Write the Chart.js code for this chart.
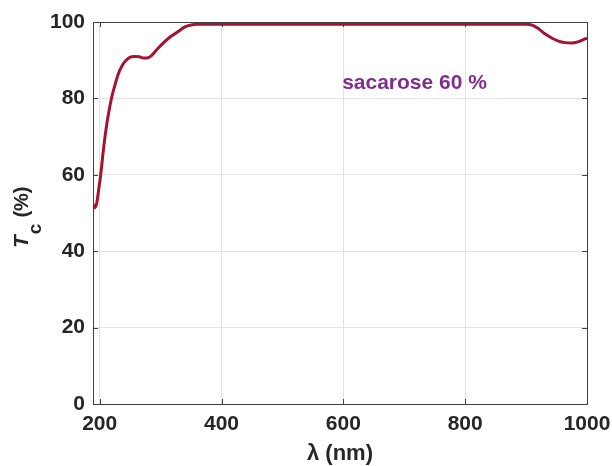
<!DOCTYPE html>
<html><head><meta charset="utf-8">
<script src="https://cdn.jsdelivr.net/npm/chart.js@4"></script>
<style>html,body{margin:0;padding:0;background:#fff}#w{width:612px;height:466px}</style>
</head><body><div id="w"><canvas id="c" width="612" height="466"></canvas></div>
<script>
const wavelengths = [189,192,195,198,202,206,210,215,220,225,231,237,243,250,257,265,272,278,285,295,305,315,327,340,350,360,380,450,600,800,900,910,920,931,942,953,964,975,985,993,1000];
const transmittance = [52.3,51.4,52.5,55.8,60.5,66.4,71.5,76.5,80.5,83.5,86.6,88.6,89.9,90.8,91.0,90.9,90.6,90.6,91.2,93.0,94.6,96.0,97.3,98.7,99.2,99.4,99.4,99.4,99.4,99.4,99.4,99.2,98.3,96.9,95.8,95.0,94.6,94.5,94.8,95.3,95.8];
const xTicks = [200,400,600,800,1000];
const yTicks = [0,20,40,60,80,100];
const annotationText = 'sacarose 60 %';
const annotationPos = [598, 84];

const FONT = '"Liberation Sans", Arial, sans-serif';
const TXT = '#262626';

const deco = {
  id:'deco',
  afterDraw(chart){
    const {ctx, chartArea:a, scales:{x,y}} = chart;
    ctx.save();
    ctx.strokeStyle = '#404040'; ctx.lineWidth = 1;
    ctx.beginPath();
    xTicks.forEach(v=>{const px=Math.round(x.getPixelForValue(v))+0.5; ctx.moveTo(px,a.bottom); ctx.lineTo(px,a.bottom-5); ctx.moveTo(px,a.top); ctx.lineTo(px,a.top+5);});
    yTicks.forEach(v=>{const py=Math.round(y.getPixelForValue(v))+0.5; ctx.moveTo(a.left,py); ctx.lineTo(a.left+5,py); ctx.moveTo(a.right,py); ctx.lineTo(a.right-5,py);});
    ctx.stroke();
    ctx.strokeRect(Math.round(a.left)+0.5, Math.round(a.top)+0.5, Math.round(a.right-a.left), Math.round(a.bottom-a.top));
    // annotation
    ctx.fillStyle = '#7E2F8E';
    ctx.font = 'bold 21px '+FONT;
    ctx.textAlign='left'; ctx.textBaseline='middle';
    ctx.fillText(annotationText, x.getPixelForValue(annotationPos[0]), y.getPixelForValue(annotationPos[1]));
    // x title
    ctx.fillStyle = TXT;
    ctx.textBaseline='alphabetic';
    ctx.font='bold 22px '+FONT;
    ctx.textAlign='center';
    ctx.fillText('λ (nm)', (a.left+a.right)/2, 460);
    // y title
    ctx.textAlign='left';
    ctx.translate(28, 248); ctx.rotate(-Math.PI/2);
    ctx.font='italic bold 21px '+FONT; const t1=ctx.measureText('T').width;
    ctx.fillText('T',0,0);
    ctx.font='bold 19px '+FONT; const t2=ctx.measureText('c').width;
    ctx.fillText('c',t1+1,13);
    ctx.font='bold 20px '+FONT;
    ctx.fillText('(%)',t1+t2+7,0);
    ctx.restore();
  }
};

new Chart(document.getElementById('c'), {
  type:'line',
  data:{datasets:[{
    data: wavelengths.map((w,i)=>({x:w,y:transmittance[i]})),
    borderColor:'#A2142F', borderWidth:3, pointRadius:0, fill:false,
    cubicInterpolationMode:'monotone'
  }]},
  options:{
    responsive:false, animation:false,
    layout:{padding:{top:22,right:25,left:0,bottom:0}},
    plugins:{legend:{display:false},tooltip:{enabled:false}},
    scales:{
      x:{type:'linear',min:189,max:1000,
        afterBuildTicks(s){s.ticks=xTicks.map(v=>({value:v}));},
        afterFit(s){s.height=62; s.paddingLeft=0; s.paddingRight=0;},
        grid:{color:'#e3e3e3',drawTicks:false},
        border:{display:false},
        ticks:{color:TXT,font:{family:FONT,size:21,weight:'bold'},padding:8,maxRotation:0,
          callback:v=>String(v)}
      },
      y:{type:'linear',min:0,max:100,
        afterBuildTicks(s){s.ticks=yTicks.map(v=>({value:v}));},
        afterFit(s){s.width=93; s.paddingTop=0; s.paddingBottom=0;},
        grid:{color:'#e3e3e3',drawTicks:false},
        border:{display:false},
        ticks:{color:TXT,font:{family:FONT,size:21,weight:'bold'},padding:8,
          callback:v=>String(v)}
      }
    }
  },
  plugins:[deco]
});
</script></body></html>
